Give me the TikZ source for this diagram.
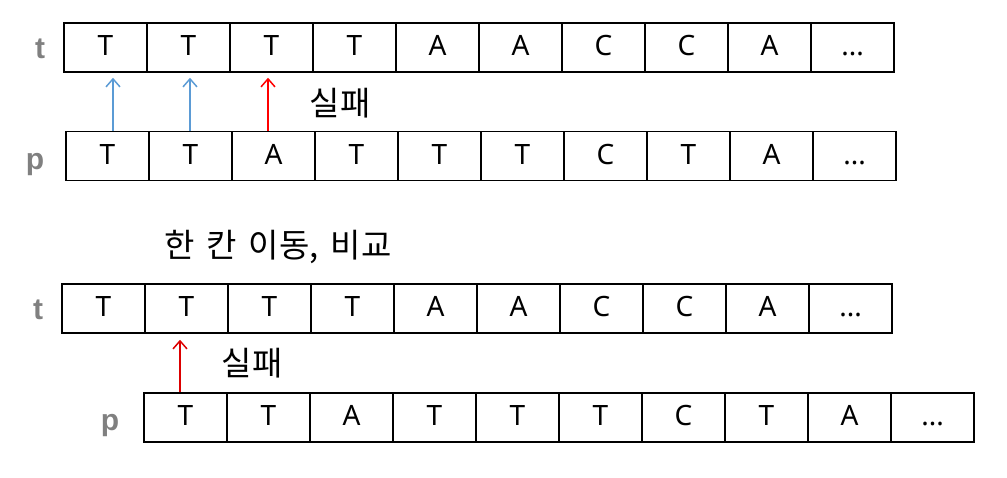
\documentclass[tikz,border=0pt]{standalone}
\usepackage{fontspec}
\setmainfont{Noto Sans}
\newfontfamily\kr[WordSpace=1.6]{Noto Sans CJK KR}
\newfontfamily\labfont{Liberation Sans}
\usetikzlibrary{arrows.meta}
\definecolor{labgray}{RGB}{128,128,128}
\definecolor{okblue}{RGB}{91,155,213}
\definecolor{failred}{RGB}{255,0,0}
\definecolor{failred2}{RGB}{220,0,0}
\newcommand\tdots{...}
\tikzset{
  cellbox/.style={draw, line width=1.5pt, minimum width=83pt, minimum height=49pt, inner sep=0pt, text height=20pt, text depth=4pt, font=\fontsize{28}{32}\selectfont},
  rowlab/.style={text=labgray, inner sep=0pt, text height=22pt, text depth=6pt, font=\labfont\bfseries\fontsize{30}{34}\selectfont},
  korlab/.style={font=\kr\fontsize{33}{37}\selectfont, inner sep=0pt},
  cmparrow/.style={line width=1.6pt, -{Straight Barb[length=8pt,width=14pt,line width=1.5pt]}}
}
\newcommand\cellrow[4]{%
  \foreach \c [count=\i] in {#4} {
    \node[cellbox] (#1-\i) at ({#2+83*\i-41.5}, #3) {\c};
  }%
}
\begin{document}
\begin{tikzpicture}[x=1pt,y=-1pt]
\useasboundingbox (0,0) rectangle (1007,477);
\cellrow{ta}{64}{47.5}{T,T,T,T,A,A,C,C,A,\tdots}
\cellrow{pa}{66}{156}{T,T,A,T,T,T,C,T,A,\tdots}
\cellrow{tb}{62}{308.5}{T,T,T,T,A,A,C,C,A,\tdots}
\cellrow{pb}{144}{417.5}{T,T,A,T,T,T,C,T,A,\tdots}
\node[rowlab] (lta) at (40,50) {t};
\node[rowlab] (lpa) at (35,161) {p};
\node[rowlab] (ltb) at (38,311) {t};
\node[rowlab] (lpb) at (110,422) {p};
\node[korlab] (fa) at (340,103) {실패};
\node[korlab] (shift) at (278,247) {한 칸 이동, 비교};
\node[korlab] (fb) at (252,363) {실패};
\draw[cmparrow, okblue] ([xshift=5.5pt]pa-1.north) -- ([xshift=5.5pt,yshift=-5pt]pa-1.north |- ta-1.south);
\draw[cmparrow, okblue] ([xshift=-0.5pt]pa-2.north) -- ([xshift=-0.5pt,yshift=-5pt]pa-2.north |- ta-2.south);
\draw[cmparrow, failred] ([xshift=-5.5pt]pa-3.north) -- ([xshift=-5.5pt,yshift=-5pt]pa-3.north |- ta-3.south);
\draw[cmparrow, failred2] ([xshift=-5.5pt]pb-1.north) -- ([xshift=-5.5pt,yshift=-6pt]pb-1.north |- tb-2.south);
\end{tikzpicture}
\end{document}
